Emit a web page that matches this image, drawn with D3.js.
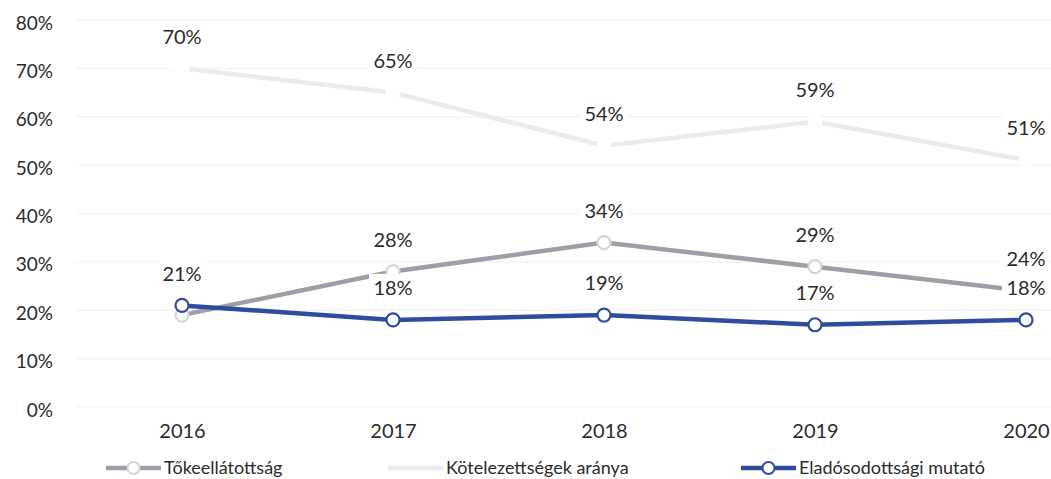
<!DOCTYPE html>
<html>
<head>
<meta charset="utf-8">
<script src="https://cdn.jsdelivr.net/npm/d3@7"></script>
<style>
  body { margin: 0; background: #fff; }
  text { font-family: Lato, "Open Sans", sans-serif; fill: #2b2b2b; }
</style>
</head>
<body>
<div id="chart"></div>
<script>
const years = ['2016', '2017', '2018', '2019', '2020'];
const yTicks = [0, 0.1, 0.2, 0.3, 0.4, 0.5, 0.6, 0.7, 0.8];

const tokeellatottsag = [0.19, 0.28, 0.34, 0.29, 0.24];
const kotelezettsegek = [0.70, 0.65, 0.54, 0.59, 0.51];
const eladosodottsag = [0.21, 0.18, 0.19, 0.17, 0.18];

const series = [
    { name: 'Tőkeellátottság', values: tokeellatottsag, color: '#9ca0a6', marker: '#d4d6d9', skipLabel: [0] },
    { name: 'Kötelezettségek aránya', values: kotelezettsegek, color: '#ebebee', marker: '#ffffff', skipLabel: [] },
    { name: 'Eladósodottsági mutató', values: eladosodottsag, color: '#2f4d9e', marker: '#2f4d9e', skipLabel: [] }
];

const width = 1051;
const height = 479;

const svg = d3.select('#chart').append('svg')
    .attr('width', width)
    .attr('height', height);

const x = d3.scalePoint()
    .domain(years)
    .range([182, 1026]);

const y = d3.scaleLinear()
    .domain([0, 0.8])
    .range([407, 20]);

// gridlines
svg.append('g')
    .selectAll('line')
    .data(yTicks)
    .join('line')
    .attr('x1', 77)
    .attr('x2', width)
    .attr('y1', d => y(d))
    .attr('y2', d => y(d))
    .attr('stroke', '#f4f4f4')
    .attr('stroke-width', 1.5);

// y axis
const yAxis = d3.axisLeft(y)
    .tickValues(yTicks)
    .tickFormat(d3.format('.0%'))
    .tickSize(0)
    .tickPadding(0);

svg.append('g')
    .attr('transform', 'translate(53,3)')
    .call(yAxis)
    .call(g => g.select('.domain').remove())
    .selectAll('text')
    .style('font-size', '19px');

// x axis
const xAxis = d3.axisBottom(x)
    .tickSize(0)
    .tickPadding(0);

svg.append('g')
    .attr('transform', 'translate(0,424)')
    .call(xAxis)
    .call(g => g.select('.domain').remove())
    .selectAll('text')
    .style('font-size', '20px');

const line = d3.line()
    .x((d, i) => x(years[i]))
    .y(d => y(d));

// lines (light one first, blue on top)
[1, 0, 2].forEach(k => {
    const s = series[k];
    svg.append('path')
        .datum(s.values)
        .attr('fill', 'none')
        .attr('stroke', s.color)
        .attr('stroke-width', 4.5)
        .attr('d', line);

    svg.append('g')
        .selectAll('circle')
        .data(s.values)
        .join('circle')
        .attr('cx', (d, i) => x(years[i]))
        .attr('cy', d => y(d))
        .attr('r', 6.5)
        .attr('fill', '#fff')
        .attr('stroke', s.marker)
        .attr('stroke-width', 2.2);
});

// data labels with white boxes
const labelFmt = d3.format('.0%');
[1, 0, 2].forEach(k => {
    const s = series[k];
    s.values.forEach((v, i) => {
        if (s.skipLabel.includes(i)) return;
        const g = svg.append('g')
            .attr('transform', `translate(${x(years[i])},${y(v) - 32})`);
        g.append('rect')
            .attr('x', -24)
            .attr('y', -14)
            .attr('width', 48)
            .attr('height', 28)
            .attr('fill', '#fff');
        g.append('text')
            .attr('text-anchor', 'middle')
            .attr('dy', '0.36em')
            .style('font-size', '20px')
            .text(labelFmt(v));
    });
});

// legend
const legendPos = [106, 388, 741];
const legend = svg.append('g')
    .selectAll('g')
    .data(series)
    .join('g')
    .attr('transform', (d, i) => `translate(${legendPos[i]},468)`);

legend.append('line')
    .attr('x1', 0)
    .attr('x2', 55)
    .attr('stroke', d => d.color)
    .attr('stroke-width', 4.5);

legend.filter((d, i) => i !== 1).append('circle')
    .attr('cx', 27.5)
    .attr('r', 6)
    .attr('fill', '#fff')
    .attr('stroke', d => d.marker)
    .attr('stroke-width', 2);

legend.append('text')
    .attr('x', 58)
    .attr('dy', '0.36em')
    .style('font-size', '18px')
    .text(d => d.name);
</script>
</body>
</html>
